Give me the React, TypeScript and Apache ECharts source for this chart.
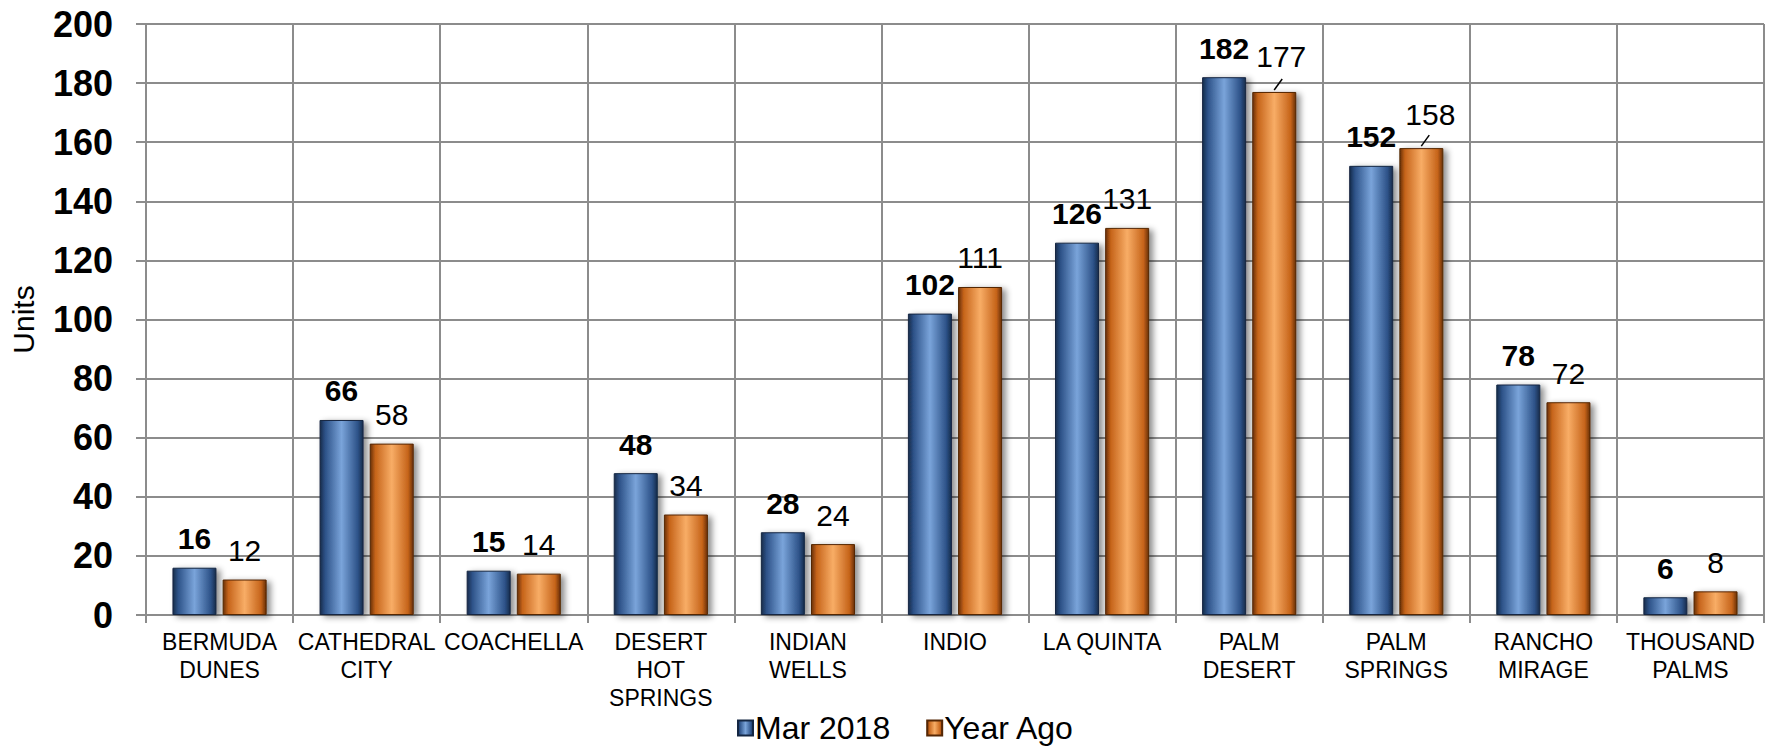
import React, { useEffect, useRef } from "react";
import * as echarts from "echarts";

const categories = [
  "BERMUDA\nDUNES",
  "CATHEDRAL\nCITY",
  "COACHELLA",
  "DESERT\nHOT\nSPRINGS",
  "INDIAN\nWELLS",
  "INDIO",
  "LA QUINTA",
  "PALM\nDESERT",
  "PALM\nSPRINGS",
  "RANCHO\nMIRAGE",
  "THOUSAND\nPALMS",
];
const mar2018 = [16, 66, 15, 48, 28, 102, 126, 182, 152, 78, 6];
const yearAgo = [12, 58, 14, 34, 24, 111, 131, 177, 158, 72, 8];
const seriesNames = ["Mar 2018", "Year Ago"];
const yTicks = { min: 0, max: 200, interval: 20 };
// Year Ago labels that are pulled away from their bar (with a leader line)
const movedLabels = [7, 8];

const FONT = "'Liberation Sans', Arial, sans-serif";
const GRID = "#8c8c8c";

const blueGrad = new echarts.graphic.LinearGradient(0, 0, 1, 0, [
  { offset: 0, color: "#172c4b" },
  { offset: 0.12, color: "#2d5288" },
  { offset: 0.5, color: "#7aa4da" },
  { offset: 0.88, color: "#2d5288" },
  { offset: 1, color: "#172c4b" },
]);
const orangeGrad = new echarts.graphic.LinearGradient(0, 0, 1, 0, [
  { offset: 0, color: "#6a3007" },
  { offset: 0.12, color: "#c6641a" },
  { offset: 0.5, color: "#f8ad66" },
  { offset: 0.88, color: "#c6641a" },
  { offset: 1, color: "#6a3007" },
]);

export default function App() {
  const ref = useRef<HTMLDivElement>(null);
  useEffect(() => {
    if (!ref.current) return;
    const chart = echarts.init(ref.current, null, { renderer: "svg" });
    const shift: Record<number, { dx: number; dy: number }> = {
      7: { dx: 7, dy: -6 },
      8: { dx: 9, dy: -5 },
    };
    chart.setOption({
      animation: false,
      backgroundColor: "#ffffff",
      textStyle: { fontFamily: FONT },
      grid: { left: 145, right: 3, top: 24, bottom: 135, containLabel: false },
      legend: {
        left: 732,
        top: 707,
        icon: "rect",
        itemWidth: 15,
        itemHeight: 15,
        itemGap: 36,
        textStyle: {
          fontSize: 32,
          lineHeight: 32,
          color: "#000",
          fontFamily: FONT,
          padding: [0, 0, 0, -3],
        },
        data: seriesNames,
      },
      xAxis: {
        type: "category",
        data: categories,
        axisLine: { show: true, lineStyle: { color: GRID, width: 2 } },
        axisTick: { show: true, interval: 0, length: 8, lineStyle: { color: GRID, width: 2 } },
        splitLine: { show: true, interval: 0, lineStyle: { color: GRID, width: 2 } },
        axisLabel: {
          interval: 0,
          margin: 13,
          fontSize: 23,
          lineHeight: 28,
          color: "#000",
          fontFamily: FONT,
        },
      },
      yAxis: {
        type: "value",
        min: yTicks.min,
        max: yTicks.max,
        interval: yTicks.interval,
        name: "Units",
        nameLocation: "middle",
        nameRotate: 90,
        nameGap: 108,
        nameTextStyle: { fontSize: 30, color: "#000", fontFamily: FONT },
        axisLine: { show: true, lineStyle: { color: GRID, width: 2 } },
        axisTick: { show: true, length: 10, lineStyle: { color: GRID, width: 2 } },
        splitLine: { show: true, lineStyle: { color: GRID, width: 2 } },
        axisLabel: {
          margin: 33,
          fontSize: 36,
          fontWeight: "bold",
          color: "#000",
          fontFamily: FONT,
        },
      },
      series: [
        {
          name: seriesNames[0],
          type: "bar",
          data: mar2018,
          barWidth: 44,
          barGap: "14%",
          itemStyle: {
            color: blueGrad,
            borderColor: "#142642",
            borderWidth: 1,
            shadowColor: "rgba(0,0,0,0.45)",
            shadowBlur: 6,
            shadowOffsetX: 4,
            shadowOffsetY: 2,
          },
          label: {
            show: true,
            position: "top",
            distance: 14,
            fontSize: 30,
            fontWeight: "bold",
            color: "#000",
            fontFamily: FONT,
          },
        },
        {
          name: seriesNames[1],
          type: "bar",
          data: yearAgo,
          barWidth: 44,
          itemStyle: {
            color: orangeGrad,
            borderColor: "#552705",
            borderWidth: 1,
            shadowColor: "rgba(0,0,0,0.45)",
            shadowBlur: 6,
            shadowOffsetX: 4,
            shadowOffsetY: 2,
          },
          label: {
            show: true,
            position: "top",
            distance: 14,
            fontSize: 30,
            color: "#000",
            fontFamily: FONT,
          },
          labelLayout: (params: any) => {
            const m = shift[params.dataIndex];
            return m ? { dx: m.dx, dy: m.dy } : {};
          },
        },
        {
          name: "leaders",
          type: "custom",
          silent: true,
          z: 5,
          data: movedLabels.map((i) => [i, yearAgo[i]]),
          renderItem: (params: any, api: any) => {
            const p = api.coord([api.value(0), api.value(1)]);
            const x = p[0] + 25;
            const y = p[1];
            return {
              type: "line",
              shape: { x1: x, y1: y - 2, x2: x + 8, y2: y - 13 },
              style: { stroke: "#000", lineWidth: 1.5 },
            };
          },
        },
      ],
    });
    return () => chart.dispose();
  }, []);
  return (
    <div
      ref={ref}
      style={{ position: "fixed", left: 0, top: 0, width: 1767, height: 750 }}
    />
  );
}
